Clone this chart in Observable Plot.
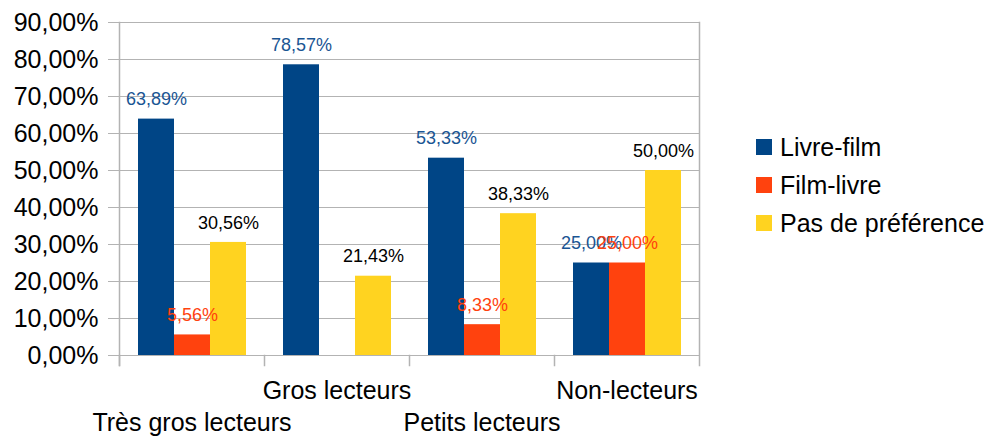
<!DOCTYPE html>
<html>
<head>
<meta charset="utf-8">
<script src="https://cdn.jsdelivr.net/npm/d3@7"></script>
<script src="https://cdn.jsdelivr.net/npm/@observablehq/plot@0.6"></script>
<style>
  html, body { margin: 0; padding: 0; background: #fff; }
  #wrap { position: relative; width: 993px; height: 437px; font-family: "Liberation Sans", Arial, sans-serif; }
  #legend { position: absolute; left: 756px; top: 128px; font-size: 25px; color: #000; }
  .row { display: flex; align-items: center; height: 38px; white-space: nowrap; }
  .sw { width: 16px; height: 16px; margin-right: 8px; }
</style>
</head>
<body>
<div id="wrap"><div id="legend"></div></div>
<script>
const categories = ["Très gros lecteurs", "Gros lecteurs", "Petits lecteurs", "Non-lecteurs"];
const series = ["Livre-film", "Film-livre", "Pas de préférence"];
const livreFilm = [63.89, 78.57, 53.33, 25.00];
const filmLivre = [5.56, null, 8.33, 25.00];
const pasDePreference = [30.56, 21.43, 38.33, 50.00];
const yTicks = [0, 10, 20, 30, 40, 50, 60, 70, 80, 90];
const colors = ["#004586", "#ff420e", "#ffd320"];
const labelColors = ["#1a5593", "#ff420e", "#000000"];

const values = [livreFilm, filmLivre, pasDePreference];
const rows = [];
categories.forEach((c, i) => {
  series.forEach((s, j) => {
    rows.push({category: c, series: s, value: values[j][i]});
  });
});
const fmt = v => v.toFixed(2).replace(".", ",") + "%";
const grid = "#b3b3b3";

const labelMarks = series.map((s, j) =>
  Plot.text(rows.filter(d => d.series === s && d.value != null), {
    fx: "category", x: "series", y: "value",
    text: d => fmt(d.value),
    fill: labelColors[j], fontSize: 18, lineAnchor: "middle", dy: -19.5
  })
);

const plot = Plot.plot({
  width: 993,
  height: 437,
  marginLeft: 118,
  marginRight: 294,
  marginTop: 22,
  marginBottom: 82,
  style: {fontFamily: "'Liberation Sans', Arial, sans-serif", background: "white", overflow: "visible"},
  fx: {domain: categories, padding: 0, axis: null, label: null},
  x: {domain: series, paddingInner: 0, paddingOuter: 0.5, axis: null, label: null},
  y: {domain: [0, 90], axis: null, label: null},
  color: {domain: series, range: colors},
  marks: [
    Plot.gridY(yTicks, {stroke: grid, strokeOpacity: 1, strokeWidth: 1}),
    Plot.axisY(yTicks, {tickSize: 11, stroke: grid, strokeOpacity: 1, text: null, label: null}),
    Plot.axisY(yTicks, {tickSize: 0, tickPadding: 21, fontSize: 25, fill: "#000", tickFormat: fmt, label: null}),
    Plot.frame({anchor: "left", facet: "super", stroke: grid, strokeWidth: 1.5, insetBottom: -10}),
    Plot.frame({anchor: "right", facet: "super", stroke: grid, strokeWidth: 1.5, insetBottom: -10}),
    Plot.frame({anchor: "left", stroke: grid, strokeWidth: 1.5, insetTop: 333, insetBottom: -10}),
    Plot.barY(rows.filter(d => d.value != null), {fx: "category", x: "series", y: "value", fill: "series"}),
    ...labelMarks,
    Plot.text(categories.filter((d, i) => i % 2 === 1), {
      fx: d => d, text: d => d, frameAnchor: "bottom", dy: 35, fontSize: 25, lineAnchor: "middle", fill: "#000"
    }),
    Plot.text(categories.filter((d, i) => i % 2 === 0), {
      fx: d => d, text: d => d, frameAnchor: "bottom", dy: 67, fontSize: 25, lineAnchor: "middle", fill: "#000"
    })
  ]
});

const wrap = document.getElementById("wrap");
wrap.insertBefore(plot, wrap.firstChild);

const legend = document.getElementById("legend");
series.forEach((s, j) => {
  const row = document.createElement("div");
  row.className = "row";
  const sw = document.createElement("div");
  sw.className = "sw";
  sw.style.background = colors[j];
  const t = document.createElement("span");
  t.textContent = s;
  row.appendChild(sw);
  row.appendChild(t);
  legend.appendChild(row);
});
</script>
</body>
</html>
